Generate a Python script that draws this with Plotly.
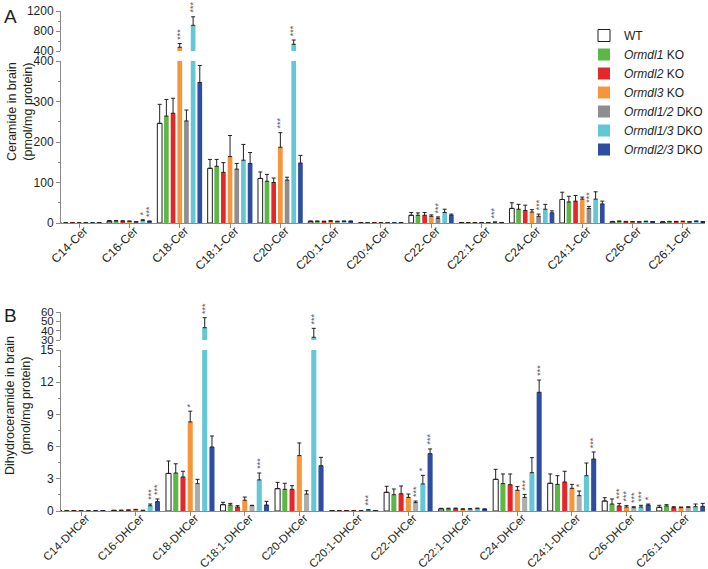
import plotly.graph_objects as go

# ---------------- data ----------------
series_names = ["WT", "<i>Ormdl1</i> KO", "<i>Ormdl2</i> KO", "<i>Ormdl3</i> KO",
                "<i>Ormdl1/2</i> DKO", "<i>Ormdl1/3</i> DKO", "<i>Ormdl2/3</i> DKO"]

cer_categories = ["C14-Cer", "C16-Cer", "C18-Cer", "C18:1-Cer", "C20-Cer", "C20:1-Cer",
                  "C20:4-Cer", "C22-Cer", "C22:1-Cer", "C24-Cer", "C24:1-Cer", "C26-Cer", "C26:1-Cer"]
cer_wt = [0.3, 4.5, 246, 135, 110, 4, 0.3, 19, 1, 36, 58, 3, 2.5]
cer_wt_err = [0.2, 1.5, 47, 22, 16, 1, 0.2, 7, 0.3, 14, 18, 1, 1]
cer_o1 = [0.3, 5, 264, 140, 103, 4, 0.3, 19, 1, 34, 52, 4, 3]
cer_o1_err = [0.2, 1, 41, 17, 17, 1, 0.2, 6, 0.3, 12, 14, 1, 1]
cer_o2 = [0.3, 4.5, 271, 125, 100, 3.5, 0.3, 19, 1, 31, 54, 3, 3]
cer_o2_err = [0.2, 1, 37, 24, 11, 1, 0.2, 7, 0.3, 13, 14, 1, 1]
cer_o3 = [0.3, 4, 475, 164, 187, 4, 0.3, 16.5, 1, 27, 59, 2.5, 3.5]
cer_o3_err = [0.2, 1, 75, 52, 36, 2, 0.2, 3.5, 0.3, 6, 5, 1, 1]
cer_o12 = [0.3, 2.5, 252, 133, 106, 3.5, 0.3, 11.5, 0.8, 16.5, 36, 2.5, 2.5]
cer_o12_err = [0.2, 0.5, 27, 14, 7, 1, 0.2, 3.5, 0.3, 5.5, 5, 0.5, 0.5]
cer_o13 = [0.3, 6, 914, 155, 534, 4, 0.3, 26, 2, 34, 59, 3.5, 4]
cer_o13_err = [0.2, 2, 170, 39, 86, 1, 0.2, 8, 0.5, 12, 18, 1, 1]
cer_o23 = [0.3, 4, 347, 147, 148, 4, 0.3, 19, 1, 25, 47, 2.5, 2.5]
cer_o23_err = [0.2, 1, 42, 27, 19, 1, 0.2, 3, 0.3, 5, 7, 0.5, 0.5]
# (category, series index, label)
cer_stars = [("C16-Cer", 5, "*"), ("C16-Cer", 6, "***"), ("C18-Cer", 3, "***"), ("C18-Cer", 5, "***"),
             ("C20-Cer", 3, "***"), ("C20-Cer", 5, "***"), ("C22-Cer", 4, "***"), ("C22:1-Cer", 5, "***"),
             ("C24-Cer", 4, "***"), ("C24:1-Cer", 4, "***")]
cer_low_ticks = [0, 100, 200, 300, 400]
cer_up_ticks = [400, 800, 1200]

dh_categories = ["C14-DHCer", "C16-DHCer", "C18-DHCer", "C18:1-DHCer", "C20-DHCer", "C20:1-DHCer",
                 "C22-DHCer", "C22:1-DHCer", "C24-DHCer", "C24:1-DHCer", "C26-DHCer", "C26:1-DHCer"]
dh_wt = [0.02, 0.05, 3.5, 0.59, 2.08, 0.02, 1.74, 0.2, 2.95, 2.58, 0.93, 0.34]
dh_wt_err = [0.01, 0.02, 1.16, 0.22, 0.59, 0.01, 0.56, 0.05, 0.93, 0.87, 0.31, 0.19]
dh_o1 = [0.02, 0.06, 3.54, 0.56, 2.02, 0.02, 1.52, 0.2, 2.55, 2.48, 0.65, 0.47]
dh_o1_err = [0.01, 0.02, 0.86, 0.15, 0.56, 0.01, 0.53, 0.06, 0.9, 0.81, 0.47, 0.12]
dh_o2 = [0.02, 0.08, 3.17, 0.37, 2.02, 0.02, 1.61, 0.22, 2.45, 2.7, 0.47, 0.31]
dh_o2_err = [0.01, 0.02, 0.53, 0.13, 0.34, 0.01, 0.72, 0.05, 1.0, 1.0, 0.24, 0.09]
dh_o3 = [0.02, 0.12, 8.3, 1.0, 5.16, 0.02, 1.27, 0.16, 1.93, 2.11, 0.37, 0.31]
dh_o3_err = [0.01, 0.03, 1.0, 0.3, 1.18, 0.01, 0.31, 0.05, 0.34, 0.37, 0.13, 0.06]
dh_o12 = [0.02, 0.05, 2.55, 0.5, 1.58, 0.02, 0.78, 0.18, 1.27, 1.43, 0.31, 0.34]
dh_o12_err = [0.01, 0.02, 0.4, 0.03, 0.31, 0.01, 0.15, 0.04, 0.28, 0.43, 0.09, 0.06]
dh_o13 = [0.03, 0.49, 43.2, 2.9, 32.9, 0.09, 2.52, 0.22, 3.57, 3.29, 0.37, 0.4]
dh_o13_err = [0.01, 0.16, 10.7, 0.64, 9.6, 0.03, 0.8, 0.05, 1.4, 1.18, 0.16, 0.25]
dh_o23 = [0.02, 0.87, 5.96, 0.56, 4.22, 0.02, 5.34, 0.16, 11.06, 4.84, 0.56, 0.43]
dh_o23_err = [0.01, 0.25, 1.03, 0.34, 0.78, 0.01, 0.44, 0.04, 1.14, 0.66, 0.09, 0.28]
dh_stars = [("C16-DHCer", 5, "***"), ("C16-DHCer", 6, "***"), ("C18-DHCer", 3, "*"), ("C18-DHCer", 5, "***"),
            ("C18:1-DHCer", 5, "***"), ("C20-DHCer", 5, "***"), ("C20:1-DHCer", 5, "***"),
            ("C22-DHCer", 4, "***"), ("C22-DHCer", 5, "*"), ("C22-DHCer", 6, "***"),
            ("C24-DHCer", 4, "***"), ("C24-DHCer", 6, "***"), ("C24:1-DHCer", 4, "*"), ("C24:1-DHCer", 6, "***"),
            ("C26-DHCer", 2, "***"), ("C26-DHCer", 3, "***"), ("C26-DHCer", 4, "***"),
            ("C26-DHCer", 5, "***"), ("C26-DHCer", 6, "*")]
dh_low_ticks = [0, 3, 6, 9, 12, 15]
dh_up_ticks = [30, 40, 50, 60]

# ---------------- styling ----------------
W, H = 708, 569
FONT = "Liberation Sans, Arial, sans-serif"
TXT = "#231f20"
AXC = "#8a8a8a"
colors_a = ["#ffffff", "#5bb847", "#e5262b", "#f7953b", "#8e8e8e", "#63c7d6", "#2f4da0"]
colors_b = ["#ffffff", "#5bb847", "#e5262b", "#f7953b", "#adadad", "#63c7d6", "#2f4da0"]
BARGAP, BARGROUPGAP = 0.07, 0.3

def fx(p):
    return p / W

def fy(p):
    return 1 - p / H

fig = go.Figure()

def add_panel(cats, vals_list, errs_list, colors, axes_low, axes_up, split, showlegend):
    for j, (vals, errs) in enumerate(zip(vals_list, errs_list)):
        line_w = 1 if j == 0 else 0
        for (xa, ya), low in ((axes_low, True), (axes_up, False)):
            e = [er if ((v <= split) == low) else None for v, er in zip(vals, errs)]
            fig.add_trace(go.Bar(
                x=cats, y=vals, name=series_names[j], xaxis=xa, yaxis=ya,
                marker=dict(color=colors[j], line=dict(color=TXT, width=line_w)),
                error_y=dict(type="data", symmetric=False, array=e, arrayminus=[0] * len(e),
                             color=TXT, thickness=1, width=2),
                showlegend=(showlegend and low), legendgroup=str(j),
            ))

add_panel(cer_categories,
          [cer_wt, cer_o1, cer_o2, cer_o3, cer_o12, cer_o13, cer_o23],
          [cer_wt_err, cer_o1_err, cer_o2_err, cer_o3_err, cer_o12_err, cer_o13_err, cer_o23_err],
          colors_a, ("x", "y"), ("x2", "y2"), cer_low_ticks[-1], True)
add_panel(dh_categories,
          [dh_wt, dh_o1, dh_o2, dh_o3, dh_o12, dh_o13, dh_o23],
          [dh_wt_err, dh_o1_err, dh_o2_err, dh_o3_err, dh_o12_err, dh_o13_err, dh_o23_err],
          colors_b, ("x3", "y3"), ("x4", "y4"), dh_low_ticks[-1], False)

# star annotations
def add_stars(stars, cats, vals_list, errs_list, axes_low, axes_up, split):
    n = len(vals_list)
    slot = (1 - BARGAP) / n
    for cat, j, lab in stars:
        i = cats.index(cat)
        xpos = i - (1 - BARGAP) / 2 + slot * (j + 0.5)
        top = vals_list[j][i] + errs_list[j][i]
        xa, ya = axes_low if vals_list[j][i] <= split else axes_up
        fig.add_annotation(x=xpos, y=top, xref=xa, yref=ya, text=lab, showarrow=False,
                           textangle=-90, xanchor="center", yanchor="bottom", yshift=2,
                           font=dict(family=FONT, size=9, color="#555555"))

add_stars(cer_stars, cer_categories,
          [cer_wt, cer_o1, cer_o2, cer_o3, cer_o12, cer_o13, cer_o23],
          [cer_wt_err, cer_o1_err, cer_o2_err, cer_o3_err, cer_o12_err, cer_o13_err, cer_o23_err],
          ("x", "y"), ("x2", "y2"), cer_low_ticks[-1])
add_stars(dh_stars, dh_categories,
          [dh_wt, dh_o1, dh_o2, dh_o3, dh_o12, dh_o13, dh_o23],
          [dh_wt_err, dh_o1_err, dh_o2_err, dh_o3_err, dh_o12_err, dh_o13_err, dh_o23_err],
          ("x3", "y3"), ("x4", "y4"), dh_low_ticks[-1])

def xaxis_low(cats, rng, anchor, fsize):
    return dict(domain=[fx(61), fx(705)], anchor=anchor, type="category", categoryorder="array",
                categoryarray=cats, range=rng, tickangle=-45, ticks="outside", ticklen=4,
                tickcolor=AXC, showline=True, linecolor=AXC, linewidth=1, showgrid=False,
                zeroline=False, tickfont=dict(family=FONT, size=fsize, color=TXT), automargin=False,
                ticklabelstandoff=-9, ticklabelshift=5)

def xaxis_up(cats, rng, anchor):
    return dict(domain=[fx(61), fx(705)], anchor=anchor, type="category", categoryorder="array",
                categoryarray=cats, range=rng, visible=False)

def yaxis(dom, rng, tickvals, minor_dtick, anchor, fsize=12):
    return dict(domain=dom, anchor=anchor, range=rng, tickvals=tickvals, ticks="outside", ticklen=4,
                tickcolor=AXC, showline=True, linecolor=AXC, linewidth=1, showgrid=False,
                zeroline=False, tickfont=dict(family=FONT, size=fsize, color=TXT), automargin=False,
                ticklabeloverflow="allow",
                minor=dict(dtick=minor_dtick, ticks="outside", ticklen=2, tickcolor=AXC, showgrid=False))

rngA = [-0.36, len(cer_categories) - 1 + 0.44]
rngB = [-0.37, len(dh_categories) - 1 + 0.44]

fig.update_layout(
    width=W, height=H, margin=dict(l=0, r=0, t=0, b=0, pad=0, autoexpand=False),
    paper_bgcolor="white", plot_bgcolor="white",
    barmode="group", bargap=BARGAP, bargroupgap=BARGROUPGAP,
    font=dict(family=FONT, color=TXT),
    xaxis=xaxis_low(cer_categories, rngA, "y", 12),
    xaxis2=xaxis_up(cer_categories, rngA, "y2"),
    xaxis3=xaxis_low(dh_categories, rngB, "y3", 11.5),
    xaxis4=xaxis_up(dh_categories, rngB, "y4"),
    yaxis=yaxis([fy(223), fy(61)], [0, 400], cer_low_ticks, 50, "x"),
    yaxis2=yaxis([fy(51), fy(11)], [400, 1200], cer_up_ticks, 200, "x2"),
    yaxis3=yaxis([fy(511), fy(350)], [0, 15], dh_low_ticks, 1.5, "x3"),
    yaxis4=yaxis([fy(340), fy(312)], [30, 60], dh_up_ticks, 10, "x4", fsize=11.5),
    legend=dict(x=1, y=fy(21), xanchor="right", yanchor="top", bgcolor="rgba(0,0,0,0)",
                font=dict(family=FONT, size=12, color=TXT), traceorder="normal", tracegroupgap=0,
                itemwidth=30),
    showlegend=True,
)

# panel letters and axis titles
fig.add_annotation(x=fx(2), y=fy(16), xref="paper", yref="paper", text="A", showarrow=False,
                   xanchor="left", yanchor="middle", font=dict(family=FONT, size=19, color=TXT))
fig.add_annotation(x=fx(2), y=fy(315), xref="paper", yref="paper", text="B", showarrow=False,
                   xanchor="left", yanchor="middle", font=dict(family=FONT, size=19, color=TXT))
fig.add_annotation(x=fx(20), y=fy(112), xref="paper", yref="paper",
                   text="Ceramide in brain<br>(pmol/mg protein)", showarrow=False, textangle=-90,
                   xanchor="center", yanchor="middle", font=dict(family=FONT, size=12.5, color=TXT))
fig.add_annotation(x=fx(18), y=fy(406), xref="paper", yref="paper",
                   text="Dihydroceramide in brain<br>(pmol/mg protein)", showarrow=False, textangle=-90,
                   xanchor="center", yanchor="middle", font=dict(family=FONT, size=12.5, color=TXT))

fig.write_html("out.html", config={"displayModeBar": False},
               post_script="document.body.style.margin='0px';")
